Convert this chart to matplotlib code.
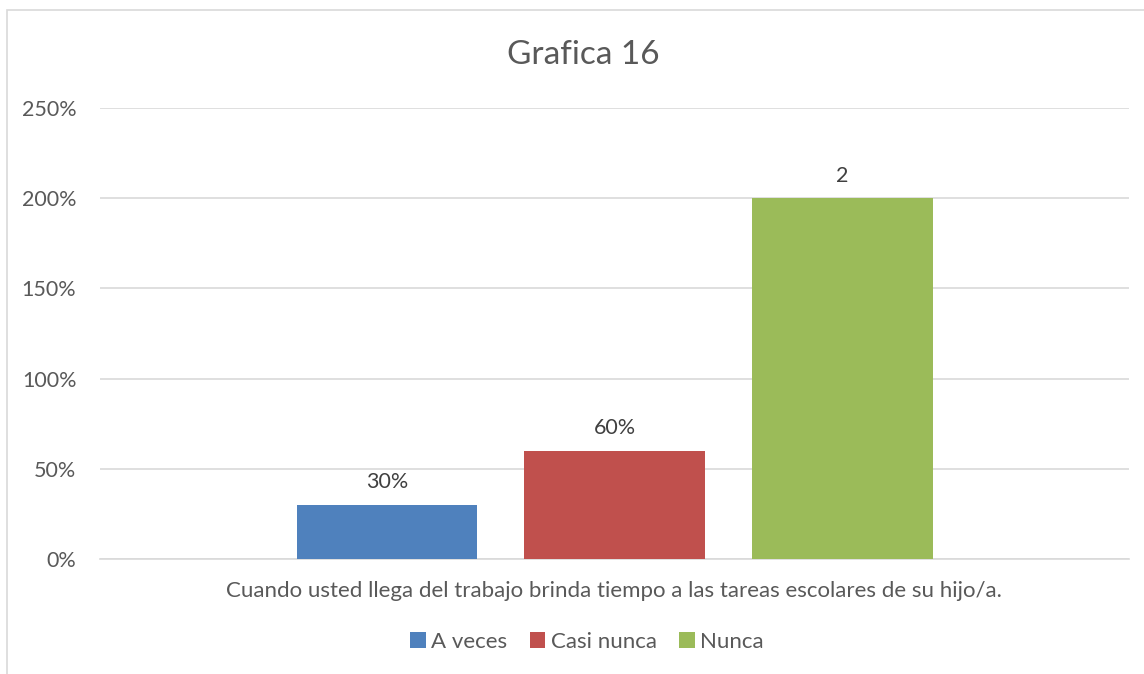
import matplotlib.pyplot as plt
from matplotlib.patches import Rectangle
from matplotlib.ticker import FuncFormatter

# datos de la grafica
series = ['A veces', 'Casi nunca', 'Nunca']
valores = [0.30, 0.60, 2.00]
etiquetas = ['30%', '60%', '2']
colores = ['#4f81bd', '#c0504d', '#9bbb59']
categoria = 'Cuando usted llega del trabajo brinda tiempo a las tareas escolares de su hijo/a.'
yticks = [0, 0.5, 1.0, 1.5, 2.0, 2.5]

plt.rcParams['font.family'] = ['Lato', 'DejaVu Sans']
gris = '#595959'

W, H = 1144, 674
fig = plt.figure(figsize=(W / 100, H / 100), dpi=100)
# marco del grafico
fig.patches.append(Rectangle((7 / W, -0.1), 1.2, 1 - 10 / H + 0.1, transform=fig.transFigure,
                             fill=False, edgecolor='#d9d9d9', linewidth=1.2))

ax = fig.add_axes([100 / W, (H - 559) / H, 1029 / W, (559 - 108) / H])
ancho = 0.175
pos = [-0.2211, 0.0, 0.2216]
for i in range(len(series)):
    ax.bar(pos[i], valores[i], width=ancho, color=colores[i], label=series[i], zorder=3)
    ax.text(pos[i], valores[i] + 0.07, etiquetas[i], ha='center', va='bottom',
            fontsize=15.5, color='#404040')

ax.set_xlim(-0.5, 0.5)
ax.set_ylim(0, 2.5)
ax.set_yticks(yticks)
ax.yaxis.set_major_formatter(FuncFormatter(lambda v, p: f'{v * 100:.0f}%'))
ax.grid(axis='y', color='#d9d9d9', linewidth=1.2, zorder=0)
ax.set_xticks([])
for s in ['top', 'right', 'left']:
    ax.spines[s].set_visible(False)
ax.spines['bottom'].set_color('#d9d9d9')
ax.spines['bottom'].set_linewidth(1.2)
ax.tick_params(axis='y', length=0, labelsize=15.5, labelcolor=gris, pad=17)

fig.text(583 / W, 1 - 55 / H, 'Grafica 16', ha='center', va='center', fontsize=24, color=gris)
fig.text(614 / W, 1 - 591 / H, categoria, ha='center', va='center',
         fontsize=16, color=gris)

fig.legend(loc='center', bbox_to_anchor=(587 / W, 1 - 642 / H), ncol=3, frameon=False,
           fontsize=16, labelcolor=gris, handlelength=0.7, handleheight=0.7,
           handletextpad=0.25, columnspacing=1.0, borderpad=0)

fig.savefig('out.png', dpi=100)
